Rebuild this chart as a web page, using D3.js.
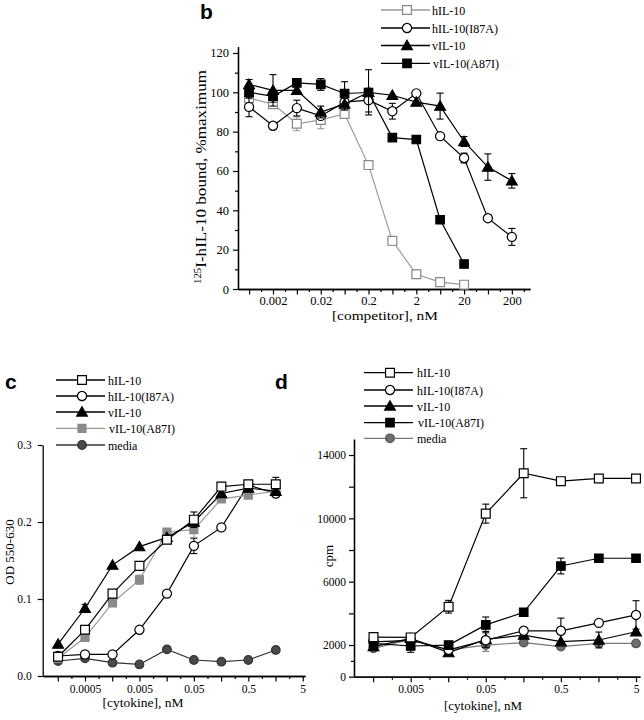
<!DOCTYPE html>
<html><head><meta charset="utf-8">
<script src="https://cdn.jsdelivr.net/npm/d3@7"></script>
<style>
body{margin:0;background:#fff;}
svg text{font-family:"Liberation Serif","Times New Roman",serif;fill:#000;}
</style></head><body>
<svg id="chart" width="644" height="720"></svg>
<script>
// ================= DATA =================
// Panel b : competition binding
const bConc = [0.00063,0.002,0.0063,0.02,0.063,0.2,0.63,2,6.3,20,63,200];
const bHIL10    = [97,94,84,86,89,63,24.5,7.5,3.5,2.2];
const bHIL10Err = [0,2,3.5,4.5,0,0,2,0,0,0];
const bI87A     = [92.6,83,92,88,95,96,90.4,99.5,77.7,66.6,36,26.5];
const bI87AErr  = [5,1.5,4,0,0,6,4,0,0,2.5,0,4.3];
const bVIL10    = [104,101,101,90,94,100,98.5,95,93,75,62,55];
const bVIL10Err = [2.5,8,0,3,3,11.5,0,0,6.6,2.5,6.7,3.7];
const bA87I     = [100,98,104.8,104,99.4,99.9,77,76,35.2,12.7];
const bA87IErr  = [3,3,0,3,6,0,0,0,0,0];
const bXLabels = ["0.002","0.02","0.2","2","20","200"];
const bYLabels = [0,20,40,60,80,100,120];
const bSeriesNames = ["hIL-10","hIL-10(I87A)","vIL-10","vIL-10(A87I)"];

// Panel c : proliferation (OD)
const cConc = [0.00016,0.0005,0.0016,0.005,0.016,0.05,0.16,0.5,1.6];
const cHIL10    = [0.025,0.06,0.107,0.143,0.177,0.203,0.246,0.249,0.249];
const cHIL10Err = [0,0,0,0,0,0.01,0,0.003,0.009];
const cI87A     = [0.026,0.028,0.028,0.06,0.107,0.169,0.193,0.248,0.237];
const cI87AErr  = [0,0,0,0,0,0.01,0,0,0];
const cVIL10    = [0.0415,0.088,0.144,0.168,0.18,0.2,0.237,0.244,0.24];
const cVIL10Err = [0,0.005,0,0,0,0,0,0,0];
const cA87I     = [0.023,0.05,0.095,0.125,0.187,0.19,0.23,0.235,0.24];
const cA87IErr  = [0,0,0,0.006,0,0.01,0,0,0];
const cMedia    = [0.0195,0.023,0.0173,0.015,0.0346,0.0208,0.0186,0.0208,0.0338];
const cXLabels = ["0.0005","0.005","0.05","0.5","5"];
const cYLabels = ["0.0","0.1","0.2","0.3"];
const cdSeriesNames = ["hIL-10","hIL-10(I87A)","vIL-10","vIL-10(A87I)","media"];

// Panel d : cpm
const dConc = [0.0016,0.005,0.016,0.05,0.16,0.5,1.6,5];
const dHIL10    = [2500,2480,4420,10300,12850,12350,12520,12520];
const dHIL10Err = [200,0,400,600,1550,0,0,0];
const dI87A     = [2200,2300,1700,2300,2900,2900,3400,3900];
const dI87AErr  = [0,0,0,0,0,800,0,900];
const dVIL10    = [1900,2420,1520,2360,2630,2210,2320,2840];
const dVIL10Err = [0,0,0,500,0,0,500,0];
const dA87I     = [2100,1940,2000,3270,4070,6990,7480,7480];
const dA87IErr  = [0,400,0,500,0,500,0,0];
const dMedia    = [1790,2360,1690,2000,2150,1900,2100,2100];
const dMediaErr = [0,0,0,400,0,0,0,0];
const dXLabels = ["0.005","0.05","0.5","5"];
const dYLabels = [0,2000,6000,10000,14000];
const dYOther  = [4000,8000,12000];
const dYMinor  = [1000];

// ================= DRAWING =================
const svg = d3.select("#chart");
const FONT = '"Liberation Serif","Times New Roman",serif';

const STYLE = {
  openSq:   {sym:d3.symbolSquare,  size:78, fill:"#fff", stroke:"#000", line:"#000"},
  greySq:   {sym:d3.symbolSquare,  size:78, fill:"#fff", stroke:"#888", line:"#9a9a9a"},
  openCirc: {sym:d3.symbolCircle,  size:66, fill:"#fff", stroke:"#000", line:"#000"},
  tri:      {sym:d3.symbolTriangle,size:50, fill:"#000", stroke:"#000", line:"#000"},
  fillSq:   {sym:d3.symbolSquare,  size:72, fill:"#000", stroke:"#000", line:"#000"},
  greyFill: {sym:d3.symbolSquare,  size:64, fill:"#8a8a8a", stroke:"#8a8a8a", line:"#9a9a9a"},
  media:    {sym:d3.symbolCircle,  size:58, fill:"#4a4a4a", stroke:"#333", line:"#333"},
  mediaD:   {sym:d3.symbolCircle,  size:58, fill:"#6e6e6e", stroke:"#555", line:"#777"}
};

function quarterTicks(labelVals, dom) {
  const base = labelVals[0];
  const major = [], minor = [];
  for (let k = -2; k <= 4 * labelVals.length + 4; k++) {
    const v = base * Math.pow(10, k / 4);
    if (v < dom[0] * 1.02 || v > dom[1]) continue;
    if (k % 2 === 0) major.push(v); else minor.push(v);
  }
  return {major, minor};
}

function styleAxis(g, fs) {
  g.attr("font-family", null).attr("font-size", null);
  g.select(".domain").attr("stroke", "#000").attr("stroke-width", 1.3);
  g.selectAll(".tick line").attr("stroke", "#000").attr("stroke-width", 1.2);
  g.selectAll("text").style("font-family", FONT).style("font-size", fs + "px").attr("fill", "#000");
}

function drawAxes(p) {
  const {x, y, xLabelStrs, yMajor, yMajorFmt, yMinor, fs} = p;
  const xLabelVals = xLabelStrs.map(Number);
  const lbl = new Map(xLabelStrs.map(s => [+s, s]));
  const qt = quarterTicks(xLabelVals, x.domain());
  const y0 = y.range()[0];
  const gx1 = svg.append("g").attr("transform", `translate(0,${y0})`)
    .call(d3.axisBottom(x).tickValues(qt.minor).tickSize(3).tickSizeOuter(0).tickFormat(""));
  styleAxis(gx1, fs);
  const majVals = qt.major.map(v => {
    const m = xLabelVals.find(l => Math.abs(Math.log10(l / v)) < 0.01);
    return m !== undefined ? m : v;
  });
  const gx2 = svg.append("g").attr("transform", `translate(0,${y0})`)
    .call(d3.axisBottom(x).tickValues(majVals).tickSize(5.5).tickSizeOuter(0).tickPadding(p.xPad)
      .tickFormat(v => lbl.has(v) ? lbl.get(v) : ""));
  styleAxis(gx2, fs);
  const x0 = x.range()[0];
  if (yMinor && yMinor.length) {
    const gy1 = svg.append("g").attr("transform", `translate(${x0},0)`)
      .call(d3.axisLeft(y).tickValues(yMinor).tickSize(3).tickSizeOuter(0).tickFormat(""));
    styleAxis(gy1, fs);
  }
  const gy2 = svg.append("g").attr("transform", `translate(${x0},0)`)
    .call(d3.axisLeft(y).tickValues(yMajor).tickSize(5).tickSizeOuter(0).tickPadding(p.yPad)
      .tickFormat(yMajorFmt));
  styleAxis(gy2, fs);
}

function drawSeries(x, y, xs, ys, errs, st) {
  const pts = ys.map((v, i) => ({x: xs[i], y: v, e: errs ? errs[i] : 0}));
  const g = svg.append("g");
  g.append("path").datum(pts)
    .attr("d", d3.line().x(d => x(d.x)).y(d => y(d.y)))
    .attr("fill", "none").attr("stroke", st.line).attr("stroke-width", 1.2);
  const eb = g.selectAll(".eb").data(pts.filter(d => d.e > 0)).enter().append("g")
    .attr("stroke", st.line).attr("stroke-width", 1.1);
  eb.append("line").attr("x1", d => x(d.x)).attr("x2", d => x(d.x))
    .attr("y1", d => y(d.y + d.e)).attr("y2", d => y(d.y - d.e));
  eb.append("line").attr("x1", d => x(d.x) - 3.5).attr("x2", d => x(d.x) + 3.5)
    .attr("y1", d => y(d.y + d.e)).attr("y2", d => y(d.y + d.e));
  eb.append("line").attr("x1", d => x(d.x) - 3.5).attr("x2", d => x(d.x) + 3.5)
    .attr("y1", d => y(d.y - d.e)).attr("y2", d => y(d.y - d.e));
  g.selectAll(".m").data(pts).enter().append("path")
    .attr("transform", d => `translate(${x(d.x)},${y(d.y) + (st.sym === d3.symbolTriangle ? 1 : 0)})`)
    .attr("d", d3.symbol().type(st.sym).size(st.size))
    .attr("fill", st.fill).attr("stroke", st.stroke).attr("stroke-width", 1.2);
}

function drawLegend(x1, x2, xm, xt, rows, names, styles, fs) {
  names.forEach((n, i) => {
    const st = styles[i], yy = rows[i];
    svg.append("line").attr("x1", x1).attr("x2", x2).attr("y1", yy).attr("y2", yy)
      .attr("stroke", st.line).attr("stroke-width", 1.3);
    svg.append("path").attr("transform", `translate(${xm},${yy + (st.sym === d3.symbolTriangle ? 1 : 0)})`)
      .attr("d", d3.symbol().type(st.sym).size(st.size))
      .attr("fill", st.fill).attr("stroke", st.stroke).attr("stroke-width", 1.2);
    svg.append("text").attr("x", xt + (n === "vIL-10(A87I)" ? 1 : 0)).attr("y", yy + 4.5)
      .style("font-size", fs + "px").text(n);
  });
}

function panelLetter(t, x, y) {
  svg.append("text").attr("x", x).attr("y", y).text(t)
    .style("font-family", '"Liberation Sans",Arial,sans-serif')
    .style("font-weight", "bold").style("font-size", "21px");
}

// ---------- Panel b ----------
const xB = d3.scaleLog().domain([0.00037, 480]).range([238, 530]);
const yB = d3.scaleLinear().domain([0, 123.2]).range([289, 46.7]);
drawAxes({x: xB, y: yB, xLabelStrs: bXLabels, yMajor: bYLabels, yMajorFmt: d => d,
  yMinor: [10,30,50,70,90,110], fs: 12.5, xPad: 2, yPad: 4});
drawSeries(xB, yB, bConc, bHIL10, bHIL10Err, STYLE.greySq);
drawSeries(xB, yB, bConc, bI87A, bI87AErr, STYLE.openCirc);
drawSeries(xB, yB, bConc, bVIL10, bVIL10Err, STYLE.tri);
drawSeries(xB, yB, bConc, bA87I, bA87IErr, STYLE.fillSq);
drawLegend(381, 430, 407, 432, [10, 28, 45.5, 63.3], bSeriesNames,
  [STYLE.greySq, STYLE.openCirc, STYLE.tri, STYLE.fillSq], 12);
panelLetter("b", 200, 19);
svg.append("text").attr("x", 385).attr("y", 320).attr("text-anchor", "middle")
  .style("font-size", "13.5px").attr("textLength", 106).attr("lengthAdjust", "spacingAndGlyphs")
  .text("[competitor], nM");
const bl = svg.append("text").attr("transform", "translate(206,177) rotate(-90)")
  .attr("text-anchor", "middle").style("font-size", "15px")
  .attr("textLength", 214).attr("lengthAdjust", "spacingAndGlyphs");
bl.append("tspan").style("font-size", "9.5px").attr("dy", -5).text("125");
bl.append("tspan").attr("dy", 5).text("I-hIL-10 bound, %maximum");

// ---------- Panel c ----------
const xC = d3.scaleLog().domain([0.0000835, 5.5]).range([42.7, 305]);
const yC = d3.scaleLinear().domain([0, 0.3]).range([676, 445]);
drawAxes({x: xC, y: yC, xLabelStrs: cXLabels, yMajor: cYLabels.map(Number),
  yMajorFmt: d => cYLabels[Math.round(d * 10)], yMinor: [], fs: 11.5, xPad: 3, yPad: 6});
drawSeries(xC, yC, cConc, cMedia, null, STYLE.media);
drawSeries(xC, yC, cConc, cI87A, cI87AErr, STYLE.openCirc);
drawSeries(xC, yC, cConc, cA87I, cA87IErr, STYLE.greyFill);
drawSeries(xC, yC, cConc, cVIL10, cVIL10Err, STYLE.tri);
drawSeries(xC, yC, cConc, cHIL10, cHIL10Err, STYLE.openSq);
drawLegend(56, 105, 82, 108, [380, 396, 412, 428.3, 445], cdSeriesNames,
  [STYLE.openSq, STYLE.openCirc, STYLE.tri, STYLE.greyFill, STYLE.media], 12);
panelLetter("c", 5, 389);
svg.append("text").attr("x", 143).attr("y", 707).attr("text-anchor", "middle")
  .style("font-size", "13.5px").text("[cytokine], nM");
svg.append("text").attr("transform", "translate(14,552) rotate(-90)")
  .attr("text-anchor", "middle").style("font-size", "13px").text("OD 550-630");

// ---------- Panel d ----------
const xD = d3.scaleLog().domain([0.00088, 5.65]).range([354, 640]);
const yD = d3.scaleLinear().domain([0, 15000]).range([676.7, 439.2]);
drawAxes({x: xD, y: yD, xLabelStrs: dXLabels, yMajor: dYLabels.concat(dYOther),
  yMajorFmt: d => dYLabels.includes(d) ? d : "", yMinor: dYMinor, fs: 11.5, xPad: 3, yPad: 3});
drawSeries(xD, yD, dConc, dMedia, dMediaErr, STYLE.mediaD);
drawSeries(xD, yD, dConc, dVIL10, dVIL10Err, STYLE.tri);
drawSeries(xD, yD, dConc, dI87A, dI87AErr, STYLE.openCirc);
drawSeries(xD, yD, dConc, dA87I, dA87IErr, STYLE.fillSq);
drawSeries(xD, yD, dConc, dHIL10, dHIL10Err, STYLE.openSq);
drawLegend(364, 413, 390, 417, [372.7, 390, 406, 422.7, 438.3], cdSeriesNames,
  [STYLE.openSq, STYLE.openCirc, STYLE.tri, STYLE.fillSq, STYLE.mediaD], 12);
panelLetter("d", 275, 389);
svg.append("text").attr("x", 483).attr("y", 710).attr("text-anchor", "middle")
  .style("font-size", "13px").text("[cytokine], nM");
svg.append("text").attr("transform", "translate(333,556) rotate(-90)")
  .attr("text-anchor", "middle").style("font-size", "13px").text("cpm");
</script>
</body></html>
